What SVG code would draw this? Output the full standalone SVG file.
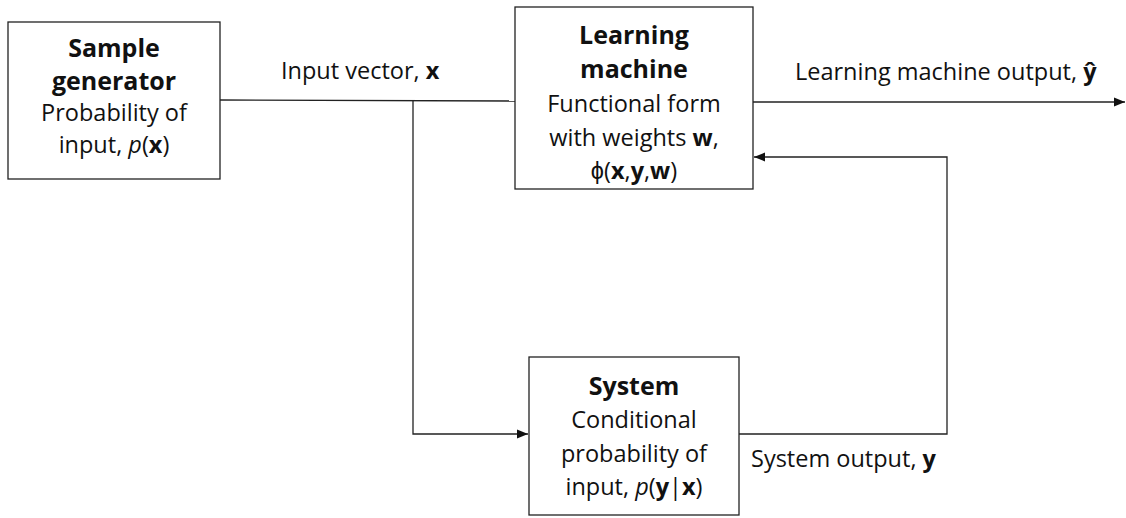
<svg xmlns="http://www.w3.org/2000/svg" width="1126" height="518" viewBox="0 0 1126 518">
<style>
.box{fill:#fff;stroke:#222;stroke-width:1.3}
.t{font-family:"Open Sans","Liberation Sans",sans-serif;font-size:23.5px;fill:#111;text-anchor:middle}
.l{font-family:"Open Sans","Liberation Sans",sans-serif;font-size:23.5px;fill:#111}
.h{font-weight:bold}
.T{font-size:25px;font-weight:bold}
.c{fill:none;stroke:#222;stroke-width:1.3}
</style>
<defs>
<marker id="ah" viewBox="0 0 10 10" refX="10" refY="5" markerWidth="11" markerHeight="11" markerUnits="userSpaceOnUse" orient="auto">
<path d="M0,1 L10,5 L0,9 z" fill="#111"/>
</marker>
</defs>
<rect width="1126" height="518" fill="#fff"/>
<g id="connectors">
<path class="c" d="M220,100 L515,101"/>
<path class="c" d="M413,100 L413,434 L528,434" marker-end="url(#ah)"/>
<path class="c" d="M753,102 L1125,102" marker-end="url(#ah)"/>
<path class="c" d="M739,434 L947,434 L947,157 L754,157" marker-end="url(#ah)"/>
<text class="l" x="281" y="79">Input vector, <tspan class="h">x</tspan></text>
<text class="l" x="795" y="80">Learning machine output, <tspan class="h">ŷ</tspan></text>
<text class="l" x="751" y="467">System output, <tspan class="h">y</tspan></text>
</g>
<g id="sample-generator">
<rect class="box" x="8" y="22" width="212" height="157"/>
<text class="t T" x="114" y="57">Sample</text>
<text class="t T" x="114" y="90">generator</text>
<text class="t" x="114" y="121">Probability of</text>
<text class="t" x="114" y="153">input, <tspan font-style="italic">p</tspan>(<tspan class="h">x</tspan>)</text>
</g>
<g id="learning-machine">
<rect class="box" x="515" y="7" width="238" height="182"/>
<text class="t T" x="634" y="44">Learning</text>
<text class="t T" x="634" y="78">machine</text>
<text class="t" x="634" y="112">Functional form</text>
<text class="t" x="634" y="146">with weights <tspan class="h">w</tspan>,</text>
<text class="t" x="634" y="179">ϕ(<tspan class="h">x</tspan>,<tspan class="h">y</tspan>,<tspan class="h">w</tspan>)</text>
</g>
<g id="system">
<rect class="box" x="529" y="357" width="210" height="158"/>
<text class="t T" x="634" y="395">System</text>
<text class="t" x="634" y="428">Conditional</text>
<text class="t" x="634" y="462">probability of</text>
<text class="t" x="634" y="495">input, <tspan font-style="italic">p</tspan>(<tspan class="h">y</tspan>|<tspan class="h">x</tspan>)</text>
</g>
</svg>
